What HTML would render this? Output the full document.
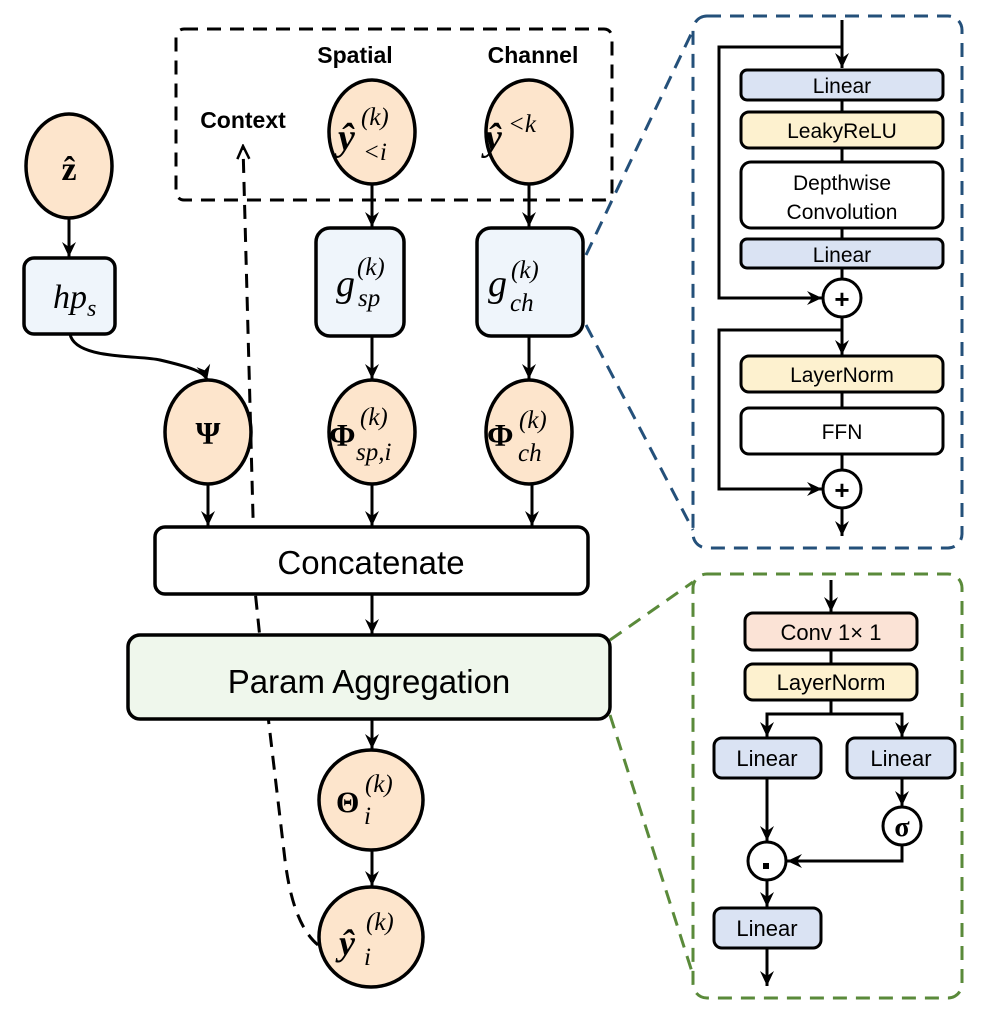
<!DOCTYPE html>
<html><head><meta charset="utf-8"><style>
html,body{margin:0;padding:0;background:#fff}
svg{display:block}
.s{font-family:"Liberation Sans",sans-serif}
.m{font-family:"Liberation Serif","DejaVu Serif",serif;font-style:italic}
.b{font-family:"Liberation Serif","DejaVu Serif",serif;font-weight:bold}
</style></head><body>
<svg width="996" height="1032" viewBox="0 0 996 1032" xmlns="http://www.w3.org/2000/svg">
<defs>
<marker id="a" viewBox="0 0 16 16" refX="15" refY="8" markerWidth="16" markerHeight="16" markerUnits="userSpaceOnUse" orient="auto">
<path d="M0,1 L15,8 L0,15 L5,8 Z" fill="#000"/></marker>
<marker id="o" viewBox="0 0 16 16" refX="14" refY="8" markerWidth="16" markerHeight="16" markerUnits="userSpaceOnUse" orient="auto">
<path d="M1,2 L14,8 L1,14" fill="none" stroke="#000" stroke-width="2.5"/></marker>
</defs>
<g fill="none" stroke-width="3">
<rect x="176" y="29" width="436" height="171" rx="8" stroke="#000" stroke-dasharray="14,9"/>
<rect x="693" y="16" width="269" height="532" rx="14" stroke="#24507a" stroke-dasharray="14,9"/>
<line x1="586" y1="255" x2="693" y2="30" stroke="#24507a" stroke-dasharray="14,9"/>
<line x1="586" y1="325" x2="693" y2="530" stroke="#24507a" stroke-dasharray="14,9"/>
<rect x="693" y="574" width="269" height="424" rx="14" stroke="#5a8a3a" stroke-dasharray="14,9"/>
<line x1="610" y1="640" x2="693" y2="582" stroke="#5a8a3a" stroke-dasharray="14,9"/>
<line x1="610" y1="715" x2="693" y2="975" stroke="#5a8a3a" stroke-dasharray="14,9"/>
</g>
<path d="M318,945 C300,930 290,900 285,860 L268,716 L255,590 L243,146" fill="none" stroke="#000" stroke-width="3" stroke-dasharray="14,9" marker-end="url(#o)"/>

<g stroke="#000" stroke-width="3" fill="none">
<line x1="69" y1="218" x2="69" y2="257" marker-end="url(#a)"/>
<path d="M70,334 C75,360 140,355 160,360 C190,367 205,372 207,380" marker-end="url(#a)"/>
<line x1="372" y1="185" x2="372" y2="227" marker-end="url(#a)"/>
<line x1="529" y1="185" x2="529" y2="227" marker-end="url(#a)"/>
<line x1="372" y1="337" x2="372" y2="379" marker-end="url(#a)"/>
<line x1="529" y1="337" x2="529" y2="379" marker-end="url(#a)"/>
<line x1="208" y1="485" x2="208" y2="526" marker-end="url(#a)"/>
<line x1="372" y1="485" x2="372" y2="526" marker-end="url(#a)"/>
<line x1="532" y1="485" x2="532" y2="526" marker-end="url(#a)"/>
<line x1="372" y1="595" x2="372" y2="634" marker-end="url(#a)"/>
<line x1="372" y1="719" x2="372" y2="749" marker-end="url(#a)"/>
<line x1="372" y1="851" x2="372" y2="886" marker-end="url(#a)"/>
</g>

<g stroke="#000" stroke-width="3.5" fill="#fde5cc">
<ellipse cx="69" cy="166" rx="43" ry="52"/>
<ellipse cx="372" cy="132" rx="43" ry="52"/>
<ellipse cx="529" cy="132" rx="43" ry="52"/>
<ellipse cx="208" cy="432" rx="43" ry="52"/>
<ellipse cx="372" cy="432" rx="43" ry="52"/>
<ellipse cx="529" cy="432" rx="43" ry="52"/>
<ellipse cx="371" cy="800" rx="52" ry="50"/>
<ellipse cx="371" cy="937" rx="52" ry="50"/>
</g>
<g stroke="#000" stroke-width="3.5" fill="#eff5fb">
<rect x="24" y="258" width="91" height="76" rx="10"/>
<rect x="316" y="228" width="88" height="108" rx="14"/>
<rect x="477" y="228" width="106" height="108" rx="14"/>
</g>
<rect x="155" y="527" width="433" height="67" rx="10" fill="#fff" stroke="#000" stroke-width="3.5"/>
<rect x="128" y="635" width="482" height="84" rx="12" fill="#eff7ec" stroke="#000" stroke-width="3.5"/>

<g class="s" font-weight="bold" font-size="23" fill="#000" text-anchor="middle">
<text x="355" y="63">Spatial</text>
<text x="533" y="63">Channel</text>
<text x="243" y="128">Context</text>
</g>
<text x="69" y="180" class="b" font-size="34" text-anchor="middle">ẑ</text>
<text x="53" y="308" class="m" font-size="34">hp<tspan font-size="24" dy="8">s</tspan></text>
<text x="338" y="150" class="b" font-style="italic" font-size="38">ŷ</text>
<text x="361" y="125" class="m" font-size="25">(k)</text>
<text x="363" y="160" class="m" font-size="25">&lt;i</text>
<text x="485" y="150" class="b" font-style="italic" font-size="38">ŷ</text>
<text x="508" y="132" class="m" font-size="25">&lt;k</text>
<text x="336" y="296" class="m" font-size="38">g</text>
<text x="357" y="275" class="m" font-size="25">(k)</text>
<text x="358" y="306" class="m" font-size="25">sp</text>
<text x="488" y="296" class="m" font-size="38">g</text>
<text x="511" y="278" class="m" font-size="25">(k)</text>
<text x="510" y="311" class="m" font-size="25">ch</text>
<text x="208" y="444" class="b" font-size="32" text-anchor="middle">Ψ</text>
<text x="329" y="446" class="b" font-size="32">Φ</text>
<text x="360" y="425" class="m" font-size="25">(k)</text>
<text x="356" y="460" class="m" font-size="25">sp,i</text>
<text x="487" y="446" class="b" font-size="32">Φ</text>
<text x="519" y="428" class="m" font-size="25">(k)</text>
<text x="518" y="461" class="m" font-size="25">ch</text>
<text x="336" y="812" class="b" font-size="30">Θ</text>
<text x="365" y="792" class="m" font-size="25">(k)</text>
<text x="364" y="824" class="m" font-size="25">i</text>
<text x="339" y="955" class="b" font-style="italic" font-size="36">ŷ</text>
<text x="366" y="930" class="m" font-size="25">(k)</text>
<text x="364" y="965" class="m" font-size="25">i</text>
<text x="371" y="574" class="s" font-size="33" text-anchor="middle">Concatenate</text>
<text x="369" y="693" class="s" font-size="33" text-anchor="middle">Param Aggregation</text>

<g stroke="#000" stroke-width="3" fill="none">
<line x1="842" y1="20" x2="842" y2="68" marker-end="url(#a)"/>
<polyline points="842,47 719,47 719,298 822,298" marker-end="url(#a)"/>
<line x1="842" y1="100" x2="842" y2="112"/>
<line x1="842" y1="148" x2="842" y2="162"/>
<line x1="842" y1="228" x2="842" y2="239"/>
<line x1="842" y1="268" x2="842" y2="279"/>
<line x1="842" y1="318" x2="842" y2="355" marker-end="url(#a)"/>
<polyline points="842,330 719,330 719,489 822,489" marker-end="url(#a)"/>
<line x1="842" y1="392" x2="842" y2="408"/>
<line x1="842" y1="454" x2="842" y2="470"/>
<line x1="842" y1="509" x2="842" y2="536" marker-end="url(#a)"/>
</g>
<g stroke="#000" stroke-width="3">
<rect x="741" y="70" width="202" height="30" rx="6" fill="#dae3f3"/>
<rect x="741" y="112" width="202" height="36" rx="8" fill="#fdf1cf"/>
<rect x="741" y="162" width="202" height="66" rx="10" fill="#fff"/>
<rect x="741" y="239" width="202" height="29" rx="6" fill="#dae3f3"/>
<rect x="741" y="356" width="202" height="36" rx="8" fill="#fdf1cf"/>
<rect x="741" y="408" width="202" height="46" rx="8" fill="#fff"/>
<circle cx="842" cy="298" r="19" fill="#fff"/>
<circle cx="842" cy="489" r="19" fill="#fff"/>
</g>
<g class="s" font-size="21" text-anchor="middle" fill="#000">
<text x="842" y="93">Linear</text>
<text x="842" y="138">LeakyReLU</text>
<text x="842" y="190">Depthwise</text>
<text x="842" y="219">Convolution</text>
<text x="842" y="262">Linear</text>
<text x="842" y="382">LayerNorm</text>
<text x="842" y="439">FFN</text>
<text x="842" y="308" font-weight="bold" font-size="26">+</text>
<text x="842" y="499" font-weight="bold" font-size="26">+</text>
</g>

<g stroke="#000" stroke-width="3" fill="none">
<line x1="831" y1="580" x2="831" y2="612" marker-end="url(#a)"/>
<line x1="831" y1="650" x2="831" y2="664"/>
<polyline points="831,700 831,714 767,714 767,737" marker-end="url(#a)"/>
<polyline points="831,714 902,714 902,737" marker-end="url(#a)"/>
<line x1="767" y1="778" x2="767" y2="841" marker-end="url(#a)"/>
<line x1="902" y1="778" x2="902" y2="806" marker-end="url(#a)"/>
<polyline points="902,846 902,861 787,861" marker-end="url(#a)"/>
<line x1="767" y1="880" x2="767" y2="907" marker-end="url(#a)"/>
<line x1="767" y1="948" x2="767" y2="986" marker-end="url(#a)"/>
</g>
<g stroke="#000" stroke-width="3">
<rect x="745" y="613" width="172" height="37" rx="8" fill="#fbe3d6"/>
<rect x="745" y="664" width="172" height="36" rx="8" fill="#fdf1cf"/>
<rect x="714" y="738" width="107" height="40" rx="8" fill="#dae3f3"/>
<rect x="847" y="738" width="108" height="40" rx="8" fill="#dae3f3"/>
<rect x="714" y="908" width="107" height="40" rx="8" fill="#dae3f3"/>
<circle cx="902" cy="826" r="19" fill="#fff"/>
<circle cx="767" cy="861" r="19" fill="#fff"/>
</g>
<g class="s" font-size="22" text-anchor="middle" fill="#000">
<text x="831" y="640">Conv 1× 1</text>
<text x="831" y="690">LayerNorm</text>
<text x="767" y="766">Linear</text>
<text x="901" y="766">Linear</text>
<text x="767" y="936">Linear</text>
</g>
<text x="902" y="836" class="b" font-size="28" text-anchor="middle">σ</text>
<rect x="763" y="863" width="6" height="6" fill="#000"/>
</svg>
</body></html>
